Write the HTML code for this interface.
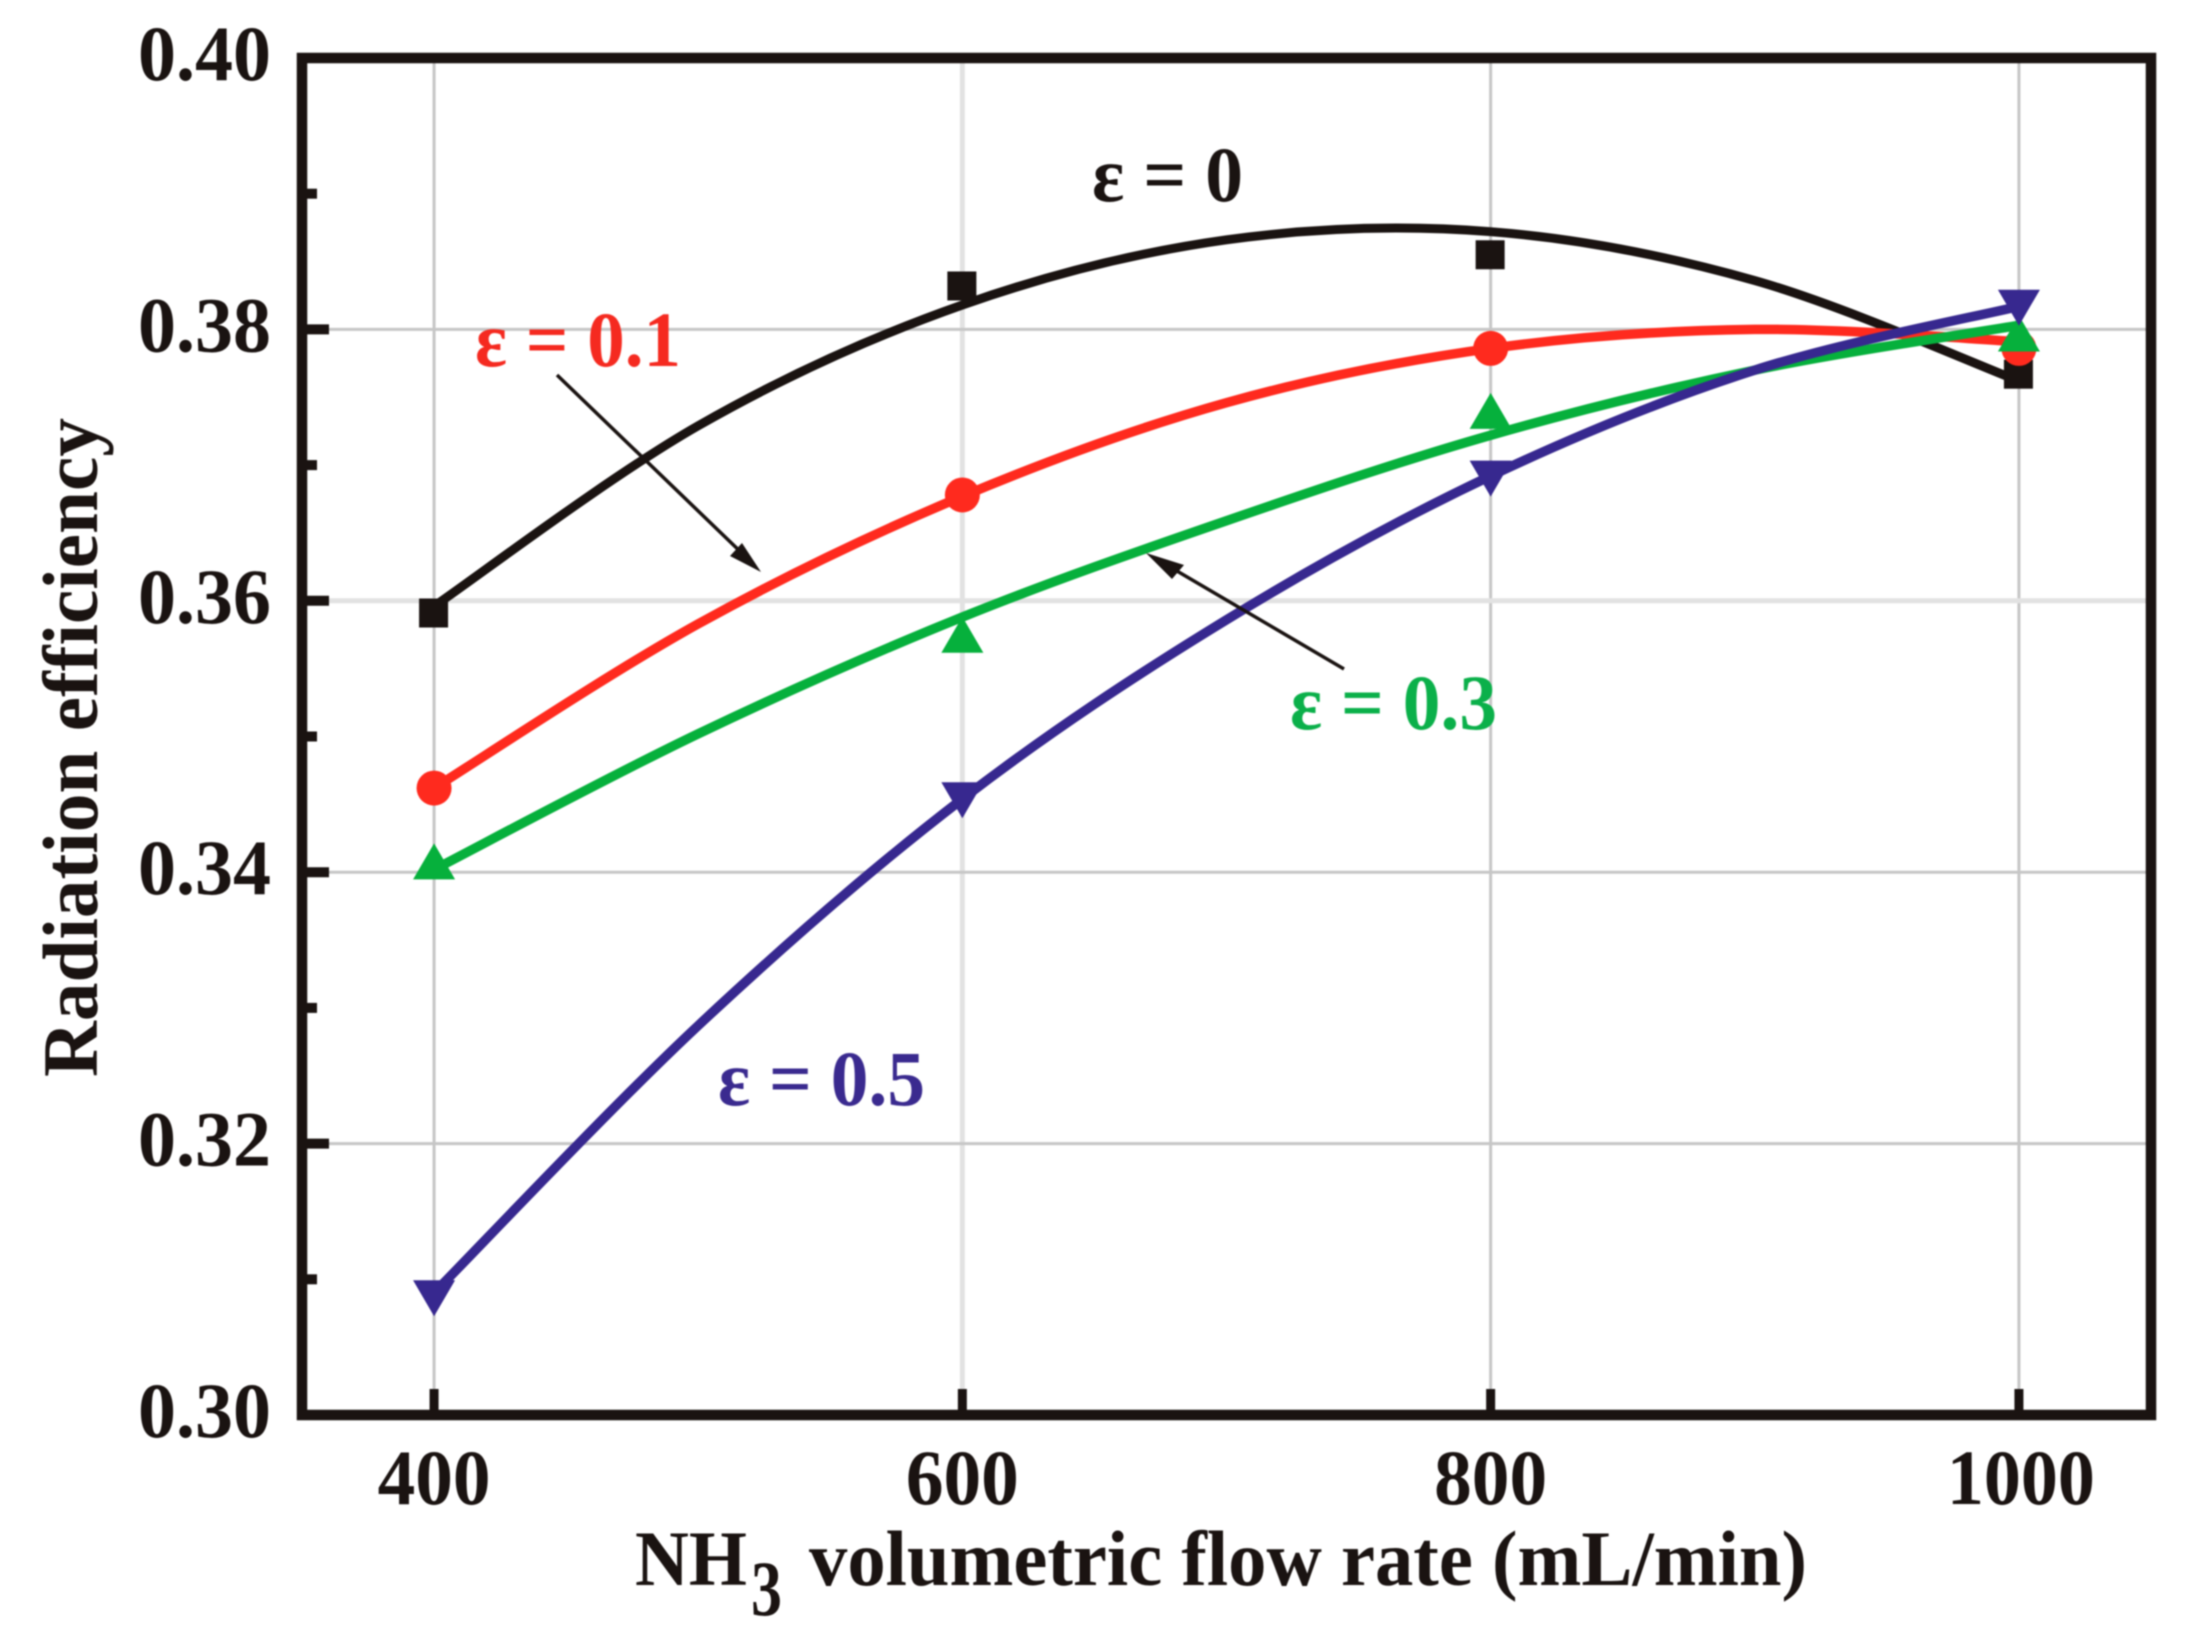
<!DOCTYPE html>
<html lang="en">
<head>
<meta charset="utf-8">
<title>Radiation efficiency vs NH3 volumetric flow rate</title>
<style>
  html, body { margin: 0; padding: 0; background: #ffffff; }
  svg { display: block; filter: blur(0.8px); }
  text { font-family: "Liberation Serif", "DejaVu Serif", serif; font-weight: bold; font-size: 78px; fill: #1a1311; }
</style>
</head>
<body>
<svg id="chart" xmlns="http://www.w3.org/2000/svg" width="2187" height="1643" viewBox="0 0 2187 1643">
  <rect x="0" y="0" width="2187" height="1643" fill="#ffffff"/>
  <g id="grid"></g>
  <g id="series"></g>

  <g>
    <line x1="557" y1="375" x2="748" y2="559" stroke="#1a1311" stroke-width="3.5"/>
    <polygon points="761,572 730,556 742,543" fill="#1a1311"/>
  </g>
  <g>
    <line x1="1344" y1="669" x2="1165" y2="564" stroke="#1a1311" stroke-width="3.5"/>
    <polygon points="1146,553 1184,565 1172,579" fill="#1a1311"/>
  </g>

  <rect x="302" y="58" width="1849" height="1357" fill="none" stroke="#1a1311" stroke-width="10.5"/>
  <g id="ticks"></g>
  <g id="labels"></g>

  <text x="635" y="1585" textLength="112" lengthAdjust="spacingAndGlyphs">NH</text>
  <text x="751" y="1615" textLength="31" lengthAdjust="spacingAndGlyphs">3</text>
  <text x="809" y="1585" textLength="998" lengthAdjust="spacingAndGlyphs">volumetric flow rate (mL/min)</text>
  <text transform="translate(97,1077) rotate(-90)" x="0" y="0" textLength="659" lengthAdjust="spacingAndGlyphs">Radiation efficiency</text>

  <text x="1092" y="201" textLength="151" lengthAdjust="spacingAndGlyphs" style="fill:#1a1311">ε = 0</text>
  <text x="475" y="366" textLength="206" lengthAdjust="spacingAndGlyphs" style="fill:#f52a20">ε = 0.1</text>
  <text x="1290" y="729" textLength="207" lengthAdjust="spacingAndGlyphs" style="fill:#0bb04a">ε = 0.3</text>
  <text x="718" y="1105" textLength="207" lengthAdjust="spacingAndGlyphs" style="fill:#3a2a8f">ε = 0.5</text>
</svg>

<script>
var xCategories = [400, 600, 800, 1000];
var markersEps0 = [0.3591, 0.3832, 0.3855, 0.3767];
var markersEps01 = [0.3462, 0.3678, 0.3786, 0.3786];
var markersEps03 = [0.3408, 0.3575, 0.3740, 0.3797];
var markersEps05 = [0.3086, 0.3453, 0.3690, 0.3816];

// Fitted curves, read at these flow rates
var curveX = [400, 500, 600, 700, 800, 900, 1000];
var curveEps0 = [0.3596, 0.3729, 0.3818, 0.3866, 0.3872, 0.3836, 0.3762];
var curveEps01 = [0.3462, 0.3583, 0.3677, 0.3746, 0.3786, 0.3800, 0.3791];
var curveEps03 = [0.3402, 0.3502, 0.3588, 0.3659, 0.3722, 0.3770, 0.3803];
var curveEps05 = [0.3090, 0.3287, 0.3454, 0.3586, 0.3692, 0.3770, 0.3817];

// Axis ticks
var yMajorTicks = [0.30, 0.32, 0.34, 0.36, 0.38, 0.40];
var yMinorTicks = [0.31, 0.33, 0.35, 0.37, 0.39];
var yTickLabels = ["0.30", "0.32", "0.34", "0.36", "0.38", "0.40"];
var xTickLabels = ["400", "600", "800", "1000"];

var NS = "http://www.w3.org/2000/svg";
var plot = { left: 302, right: 2151, top: 58, bottom: 1415 };
var xDomain = [350, 1050];
var yDomain = [0.30, 0.40];

function sx(v) {
  return plot.left + (v - xDomain[0]) / (xDomain[1] - xDomain[0]) * (plot.right - plot.left);
}
function sy(v) {
  return plot.bottom - (v - yDomain[0]) / (yDomain[1] - yDomain[0]) * (plot.bottom - plot.top);
}
function make(tag, parent) {
  var el = document.createElementNS(NS, tag);
  parent.appendChild(el);
  return el;
}
function splinePath(xs, ys) {
  var pts = xs.map(function (x, i) { return [sx(x), sy(ys[i])]; });
  var d = "M" + pts[0][0] + "," + pts[0][1];
  for (var i = 0; i < pts.length - 1; i++) {
    var p0 = pts[Math.max(i - 1, 0)], p1 = pts[i], p2 = pts[i + 1], p3 = pts[Math.min(i + 2, pts.length - 1)];
    var c1x = p1[0] + (p2[0] - p0[0]) / 6, c1y = p1[1] + (p2[1] - p0[1]) / 6;
    var c2x = p2[0] - (p3[0] - p1[0]) / 6, c2y = p2[1] - (p3[1] - p1[1]) / 6;
    d += " C" + c1x + "," + c1y + " " + c2x + "," + c2y + " " + p2[0] + "," + p2[1];
  }
  return d;
}

var gridG = document.getElementById("grid");
var ticksG = document.getElementById("ticks");
var labelsG = document.getElementById("labels");
var seriesG = document.getElementById("series");

// Grid and ticks on the x axis
xCategories.forEach(function (v, i) {
  var pale = (i === 1);
  var g = make("line", gridG);
  
  
  g.setAttribute("x1", sx(v)); g.setAttribute("x2", sx(v));
  g.setAttribute("y1", plot.top); g.setAttribute("y2", plot.bottom);
  g.setAttribute("stroke", pale ? "#e2e2e2" : "#c6c6c6");
  g.setAttribute("stroke-width", pale ? "5" : "3");

  var t = make("line", ticksG);
  
  
  t.setAttribute("x1", sx(v)); t.setAttribute("x2", sx(v));
  t.setAttribute("y1", plot.bottom); t.setAttribute("y2", plot.bottom - 26);
  t.setAttribute("stroke", "#1a1311"); t.setAttribute("stroke-width", "9");

  var l = make("text", labelsG);
  
  
  l.setAttribute("x", sx(v) + (xTickLabels[i].length > 3 ? 2 : 0));
  l.setAttribute("y", 1504);
  l.setAttribute("text-anchor", "middle");
  l.setAttribute("textLength", xTickLabels[i].length > 3 ? 148 : 113);
  l.setAttribute("lengthAdjust", "spacingAndGlyphs");
  l.textContent = xTickLabels[i];
});

// Grid, ticks and labels on the y axis
yMajorTicks.forEach(function (v, i) {
  if (v > yDomain[0] && v < yDomain[1]) {
    var pale = (i === 3);
    var g = make("line", gridG);
    
    
    g.setAttribute("x1", plot.left); g.setAttribute("x2", plot.right);
    g.setAttribute("y1", sy(v)); g.setAttribute("y2", sy(v));
    g.setAttribute("stroke", pale ? "#e2e2e2" : "#c6c6c6");
    g.setAttribute("stroke-width", pale ? "5" : "3");

    var t = make("line", ticksG);
    
    
    t.setAttribute("x1", plot.left); t.setAttribute("x2", plot.left + 27);
    t.setAttribute("y1", sy(v)); t.setAttribute("y2", sy(v));
    t.setAttribute("stroke", "#1a1311"); t.setAttribute("stroke-width", "10");
  }
  var l = make("text", labelsG);
  
  
  l.setAttribute("x", 271);
  l.setAttribute("y", sy(v) + 22);
  l.setAttribute("text-anchor", "end");
  l.setAttribute("textLength", 133);
  l.setAttribute("lengthAdjust", "spacingAndGlyphs");
  l.textContent = yTickLabels[i];
});

yMinorTicks.forEach(function (v) {
  var t = make("line", ticksG);
  
  
  t.setAttribute("x1", plot.left); t.setAttribute("x2", plot.left + 15);
  t.setAttribute("y1", sy(v)); t.setAttribute("y2", sy(v));
  t.setAttribute("stroke", "#1a1311"); t.setAttribute("stroke-width", "10");
});

// Series
function drawCurve(values, color, width, name) {
  var p = make("path", seriesG);
  
  
  p.setAttribute("d", splinePath(curveX, values));
  p.setAttribute("fill", "none");
  p.setAttribute("stroke", color);
  p.setAttribute("stroke-width", width);
}

function drawSquares(values, color) {
  values.forEach(function (v, i) {
    var m = make("rect", seriesG);
    
    
    m.setAttribute("x", sx(xCategories[i]) - 15);
    m.setAttribute("y", sy(v) - 14.5);
    m.setAttribute("width", 29);
    m.setAttribute("height", 29);
    m.setAttribute("fill", color);
  });
}
function drawCircles(values, color) {
  values.forEach(function (v, i) {
    var m = make("circle", seriesG);
    
    
    m.setAttribute("cx", sx(xCategories[i]));
    m.setAttribute("cy", sy(v));
    m.setAttribute("r", 17.5);
    m.setAttribute("fill", color);
  });
}
function drawUpTriangles(values, color) {
  values.forEach(function (v, i) {
    var cx = sx(xCategories[i]), cy = sy(v);
    var m = make("polygon", seriesG);
    
    
    m.setAttribute("points", cx + "," + (cy - 18) + " " + (cx + 21) + "," + (cy + 18) + " " + (cx - 21) + "," + (cy + 18));
    m.setAttribute("fill", color);
  });
}
function drawDownTriangles(values, color) {
  values.forEach(function (v, i) {
    var cx = sx(xCategories[i]), cy = sy(v);
    var m = make("polygon", seriesG);
    
    
    m.setAttribute("points", cx + "," + (cy + 18) + " " + (cx + 21) + "," + (cy - 18) + " " + (cx - 21) + "," + (cy - 18));
    m.setAttribute("fill", color);
  });
}

drawCurve(curveEps0, "#1a1311", 9, "curve-epsilon-0");
drawSquares(markersEps0, "#1a1311");
drawCurve(curveEps01, "#ff2a1e", 9.5, "curve-epsilon-0-1");
drawCircles(markersEps01, "#ff2a1e");
drawCurve(curveEps03, "#06b03c", 9.5, "curve-epsilon-0-3");
drawUpTriangles(markersEps03, "#06b03c");
drawCurve(curveEps05, "#37288f", 9.5, "curve-epsilon-0-5");
drawDownTriangles(markersEps05, "#37288f");
</script>
</body>
</html>
